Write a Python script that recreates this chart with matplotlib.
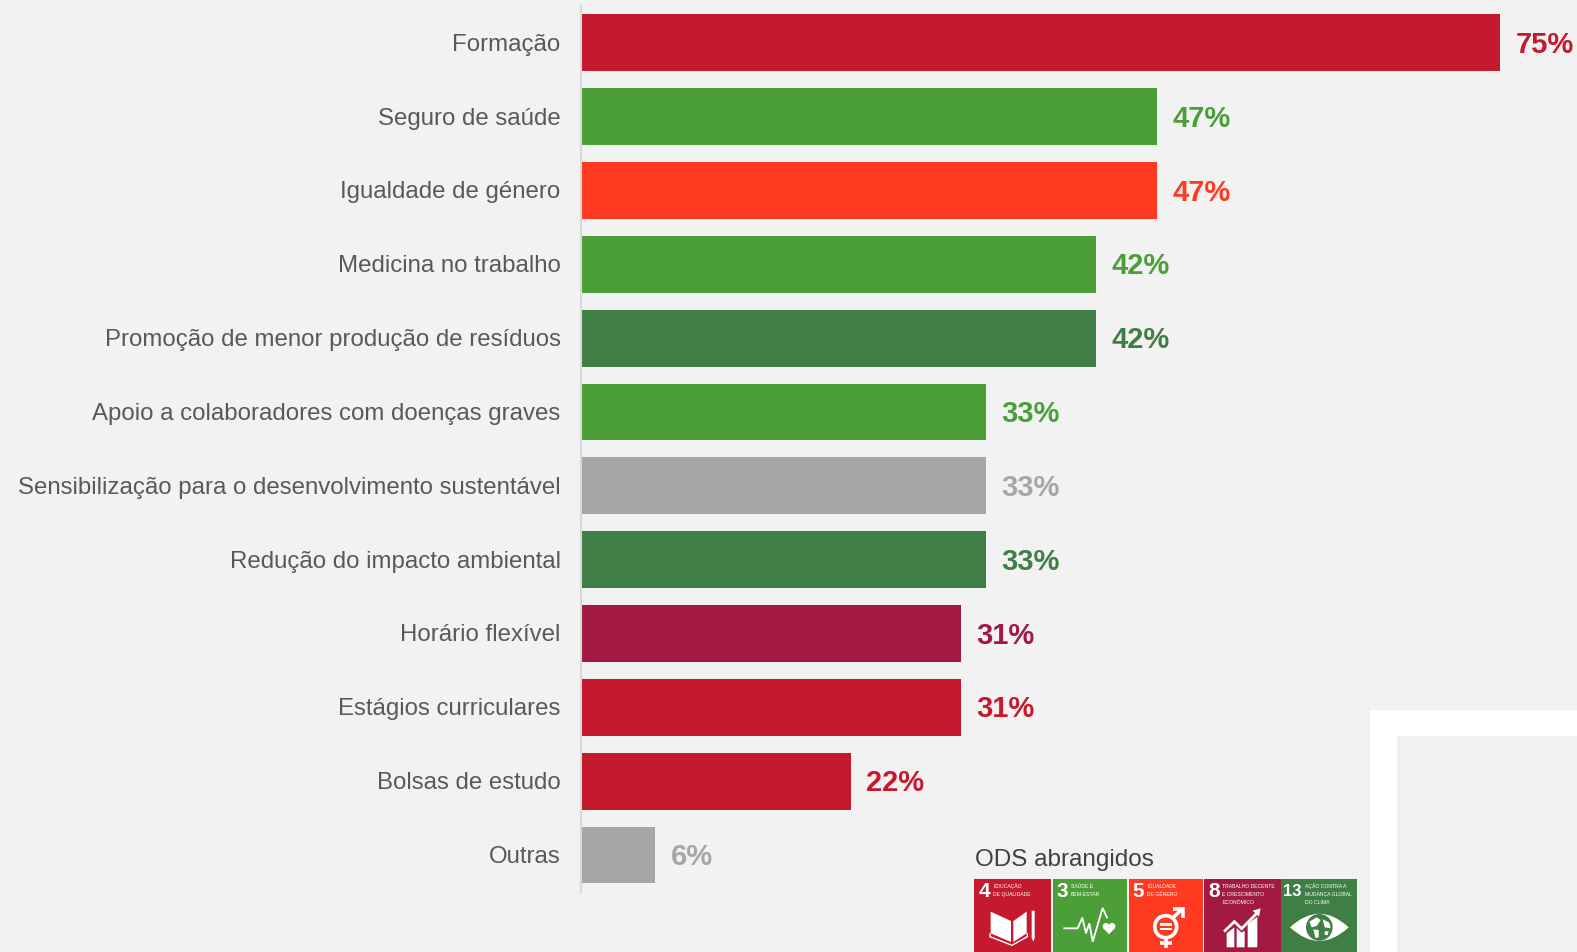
import matplotlib
matplotlib.use("Agg")
import matplotlib.pyplot as plt
from matplotlib.patches import Circle, PathPatch, Polygon, Rectangle
from matplotlib.path import Path
from matplotlib.transforms import ScaledTranslation

categorias = [
    "Formação",
    "Seguro de saúde",
    "Igualdade de género",
    "Medicina no trabalho",
    "Promoção de menor produção de resíduos",
    "Apoio a colaboradores com doenças graves",
    "Sensibilização para o desenvolvimento sustentável",
    "Redução do impacto ambiental",
    "Horário flexível",
    "Estágios curriculares",
    "Bolsas de estudo",
    "Outras",
]
valores = [75, 47, 47, 42, 42, 33, 33, 33, 31, 31, 22, 6]

VERMELHO = "#C5192D"
VERDE = "#4C9F38"
LARANJA = "#FF3A21"
BORDEAUX = "#A21942"
VERDE_ESCURO = "#3F7E44"
CINZA = "#A6A6A6"
cores = [VERMELHO, VERDE, LARANJA, VERDE, VERDE_ESCURO, VERDE, CINZA,
         VERDE_ESCURO, BORDEAUX, VERMELHO, VERMELHO, CINZA]

ods_numeros = ["4", "3", "5", "8", "13"]
ods_textos = [
    "EDUCAÇÃO\nDE QUALIDADE",
    "SAÚDE E\nBEM-ESTAR",
    "IGUALDADE\nDE GÉNERO",
    "TRABALHO DECENTE\nE CRESCIMENTO\nECONÓMICO",
    "AÇÃO CONTRA A\nMUDANÇA GLOBAL\nDO CLIMA",
]
ods_cores = [VERMELHO, VERDE, LARANJA, BORDEAUX, VERDE_ESCURO]

LARGURA, ALTURA = 1577, 952
FUNDO = "#F2F2F2"
BRANCO = "#FFFFFF"

plt.rcParams["font.family"] = ["Liberation Sans", "DejaVu Sans"]


def z(x, y):
    # coordenadas medidas no recorte ampliado 3x -> pixeis da imagem
    return 950 + x / 3, 820 + y / 3


def zs(pontos):
    return [z(x, y) for x, y in pontos]


def linha(ax, pontos, lw=1.6, cor=BRANCO):
    xs, ys = zip(*zs(pontos))
    ax.plot(xs, ys, color=cor, lw=lw, solid_capstyle="butt", solid_joinstyle="miter")


def poligono(ax, pontos, cor=BRANCO):
    ax.add_patch(Polygon(zs(pontos), closed=True, fc=cor, ec="none"))


def circulo(ax, x, y, r, **kw):
    ax.add_patch(Circle(z(x, y), r / 3, **kw))


def desenhar_livro(ax):
    poligono(ax, [(122, 275), (183, 303), (183, 366), (122, 340)])
    poligono(ax, [(190, 303), (230, 275), (230, 340), (190, 366)])
    linha(ax, [(120, 340), (120, 350), (186, 376), (232, 350), (232, 340)], lw=1)
    poligono(ax, [(245, 272), (254, 272), (254, 355), (250, 364), (245, 355)])


def desenhar_pulso(ax):
    linha(ax, [(340, 325), (383, 325), (397, 293), (408, 340), (418, 310),
               (428, 365), (458, 264), (472, 295)], lw=1.3)
    circulo(ax, 468, 319, 10, fc=BRANCO, ec="none")
    circulo(ax, 486, 319, 10, fc=BRANCO, ec="none")
    poligono(ax, [(459, 324), (495, 324), (477, 343)])


def desenhar_genero(ax):
    circulo(ax, 647, 320, 33, fc="none", ec=BRANCO, lw=2.6)
    poligono(ax, [(629, 310), (665, 310), (665, 317), (629, 317)])
    poligono(ax, [(629, 324), (665, 324), (665, 331), (629, 331)])
    linha(ax, [(647, 353), (647, 385)], lw=2.6)
    linha(ax, [(630, 368), (665, 368)], lw=2.6)
    linha(ax, [(670, 292), (698, 266)], lw=2.6)
    linha(ax, [(670, 266), (698, 266), (698, 294)], lw=2.6)


def desenhar_grafico(ax):
    poligono(ax, [(830, 340), (853, 322), (853, 382), (830, 382)])
    poligono(ax, [(860, 324), (875, 338), (884, 332), (884, 382), (860, 382)])
    poligono(ax, [(893, 312), (922, 290), (922, 382), (893, 382)])
    linha(ax, [(822, 335), (853, 305), (875, 326), (925, 275)], lw=2)
    poligono(ax, [(908, 272), (932, 265), (927, 290)])


def desenhar_olho(ax):
    codigos = [Path.MOVETO, Path.CURVE3, Path.CURVE3, Path.CURVE3, Path.CURVE3]
    pontos = zs([(1020, 322), (1108, 240), (1196, 322), (1108, 404), (1020, 322)])
    ax.add_patch(PathPatch(Path(pontos, codigos), fc=BRANCO, ec="none"))
    circulo(ax, 1108, 322, 40, fc=VERDE_ESCURO, ec="none")
    poligono(ax, [(1078, 305), (1100, 292), (1112, 300), (1100, 318), (1085, 322)])
    poligono(ax, [(1090, 328), (1106, 330), (1106, 352), (1096, 354)])
    poligono(ax, [(1118, 298), (1138, 308), (1142, 325), (1124, 322)])
    poligono(ax, [(1124, 334), (1136, 334), (1132, 346), (1124, 344)])


icones = [desenhar_livro, desenhar_pulso, desenhar_genero, desenhar_grafico, desenhar_olho]
ods_limites = [(73, 302), (308, 530), (536, 758), (762, 993), (993, 1221)]
ods_x_numero = [85, 319, 547, 776, 999]
ods_x_texto = [130, 362, 591, 817, 1065]

fig = plt.figure(figsize=(LARGURA / 100, ALTURA / 100), dpi=100, facecolor=FUNDO)

# camada de fundo com a moldura branca
fundo = fig.add_axes([0, 0, 1, 1], zorder=0)
fundo.set_xlim(0, LARGURA)
fundo.set_ylim(ALTURA, 0)
fundo.axis("off")
fundo.add_patch(Rectangle((1370, 710), 207, 242, fc=BRANCO, ec="none"))
fundo.add_patch(Rectangle((1397, 736), 180, 216, fc="#F1F1F1", ec="none"))

# grafico de barras
esquerda, topo, base = 581.4, 5.9, 891.9
ax = fig.add_axes([esquerda / LARGURA, 1 - base / ALTURA,
                   (LARGURA - esquerda) / LARGURA, (base - topo) / ALTURA], zorder=1)
ax.patch.set_alpha(0)
posicoes = list(range(len(categorias)))
ax.barh(posicoes, valores, height=0.77, color=cores)
ax.set_xlim(0, (LARGURA - esquerda) / 12.247)
ax.set_ylim(len(categorias) - 0.5, -0.5)
ax.set_yticks(posicoes, categorias, fontsize=17.3, color="#595959")
ax.tick_params(axis="y", length=0, pad=15)
ax.set_xticks([])
for lado in ["top", "right", "bottom"]:
    ax.spines[lado].set_visible(False)
ax.spines["left"].set_color("#D9D9D9")
ax.spines["left"].set_linewidth(1.5)

sobe = ScaledTranslation(0, 0.5 / 100, fig.dpi_scale_trans)
for rotulo in ax.get_yticklabels():
    rotulo.set_transform(rotulo.get_transform() + sobe)

for pos, valor, cor in zip(posicoes, valores, cores):
    ax.annotate(f"{valor}%", (valor, pos), xytext=(11.2, -1.5), textcoords="offset points",
                va="center", ha="left", fontsize=21, fontweight="bold", color=cor,
                annotation_clip=False)

# legenda dos ODS
topo_ax = fig.add_axes([0, 0, 1, 1], zorder=2)
topo_ax.set_xlim(0, LARGURA)
topo_ax.set_ylim(ALTURA, 0)
topo_ax.axis("off")
topo_ax.text(975, 860, "ODS abrangidos", fontsize=17.5, color="#404040", va="center", ha="left")

for i, (x0, x1) in enumerate(ods_limites):
    px0 = z(x0, 0)[0]
    px1 = z(x1, 0)[0]
    topo_ax.add_patch(Rectangle((px0, 879), px1 - px0, ALTURA - 879, fc=ods_cores[i], ec="none"))
    tx, ty = z(ods_x_numero[i], 215)
    tamanho = 15 if len(ods_numeros[i]) == 1 else 12
    topo_ax.text(tx, ty, ods_numeros[i], fontsize=tamanho, fontweight="bold", color=BRANCO,
                 va="center", ha="left")
    tx, ty = z(ods_x_texto[i], 191)
    topo_ax.text(tx, ty, ods_textos[i], fontsize=3.7, color=BRANCO, va="top", ha="left",
                 linespacing=1.75)
    icones[i](topo_ax)

fig.savefig("out.png", dpi=100, facecolor=FUNDO)
